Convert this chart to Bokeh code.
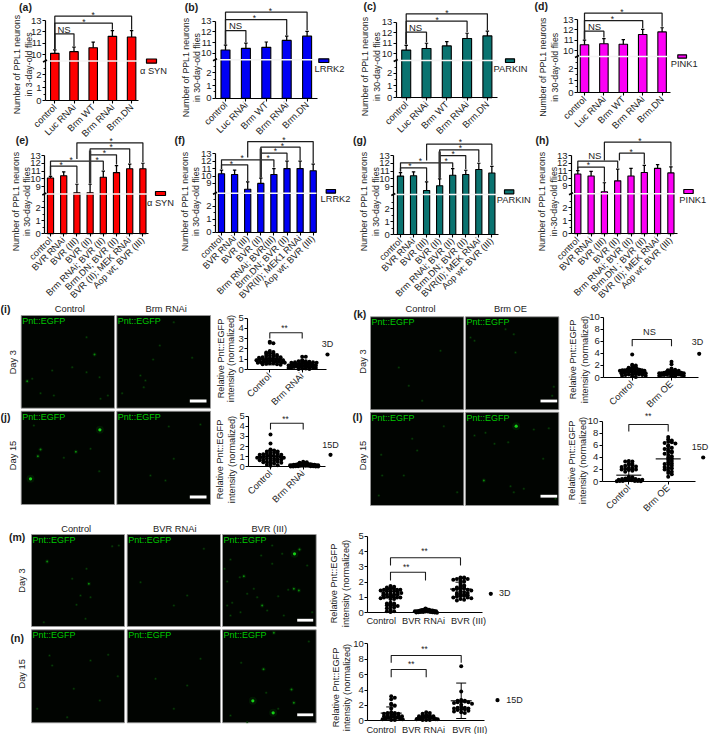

from math import pi
from bokeh.plotting import figure
from bokeh.models import Range1d, LinearAxis, FixedTicker
from bokeh.core.properties import value
from bokeh.embed import file_html
from bokeh.resources import INLINE

W, H_PX = 709, 734
FONT = value("Liberation Sans")
INK = "#1c1c1c"

# ---------- bar data ----------
cats_top = ["control", "Luc RNAi", "Brm WT", "Brm RNAi", "Brm.DN"]
a_vals = [10.1, 10.25, 10.6, 11.6, 11.55]
a_tops = [10.4, 10.65, 11.1, 12.1, 12.1]
b_vals = [10.3, 10.45, 10.55, 11.2, 11.6]
b_tops = [10.75, 10.95, 11.05, 11.6, 12.05]
c_vals = [10.35, 10.5, 10.75, 11.45, 11.7]
c_tops = [10.8, 11.0, 11.15, 11.95, 12.15]
d_vals = [10.55, 10.65, 10.6, 11.55, 11.8]
d_tops = [11.0, 11.15, 11.05, 12.05, 12.2]

e_cats = ["control", "BVR RNAi", "BVR (III)", "BVR (II)", "Brm RNAi; BVR (II)", "Brm.DN; BVR (II)", "BVR (II); MEK RNAi", "Aop wt; BVR (III)"]
f_cats = ["control", "BVR RNAi", "BVR (III)", "BVR (II)", "Brm RNAi; BVR(III)", "Brm.DN; BVR (II)", "BVR(II); MEK1 RNAi", "Aop wt; BVR (III)"]
g_cats = ["control", "BVR RNAi", "BVR (III)", "BVR (II)", "Brm RNAi; BVR (II)", "Brm.DN; BVR (II)", "BVR(II); MEK RNAi", "Aop wt; BVR (III)"]
h_cats = ["control", "BVR RNAi", "BVR (III)", "BVR (II)", "Brm RNAi; BVR (II)", "Brm.DN ; BVR (II)", "BVR (II); MEK RNAi", "Aop wt; BVR (III)"]
e_vals = [10.1, 10.4, 8.2, 8.2, 10.2, 10.8, 11.3, 11.3]
e_tops = [10.3, 10.9, 9.3, 9.3, 11.0, 11.7, 11.9, 12.0]
f_vals = [10.3, 10.2, 8.2, 9.0, 10.2, 11.0, 11.0, 10.7]
f_tops = [10.8, 10.8, 9.2, 9.7, 11.0, 12.0, 12.0, 11.6]
g_vals = [10.35, 10.4, 8.5, 9.1, 10.45, 10.55, 11.2, 10.75]
g_tops = [10.8, 10.9, 9.6, 10.0, 11.3, 11.1, 12.0, 11.6]
h_vals = [10.55, 10.3, 8.2, 9.65, 10.3, 10.75, 11.3, 10.7]
h_tops = [11.0, 10.9, 9.4, 11.2, 11.3, 11.7, 11.8, 11.5]

# ---------- scatter data ----------
i_control = [2.7,2.6,2.55,1.8,1.7,1.65,1.6,1.55,1.5,1.4,1.35,1.3,1.3,1.25,1.2,1.2,1.15,1.1,1.1,1.05,1.0,1.0,1.0,0.95,0.9,0.9,0.85,0.85,0.8,0.8,0.75,0.75,0.7,0.7,0.65,0.65,0.6,0.6,0.55,0.5,0.5,0.45]
i_rnai = [1.25,1.25,0.9,0.85,0.8,0.8,0.75,0.7,0.7,0.65,0.65,0.6,0.6,0.55,0.55,0.5,0.5,0.5,0.45,0.45,0.4,0.4,0.35,0.35,0.3,0.3,0.3,0.25,0.25,0.2,0.2,0.15,0.15,0.1,0.1,0.05,0.05]
j_control = [3.2,2.3,1.7,1.65,1.6,1.5,1.5,1.4,1.4,1.3,1.3,1.25,1.2,1.2,1.15,1.1,1.1,1.05,1.0,1.0,0.95,0.9,0.9,0.85,0.8,0.8,0.75,0.7,0.7,0.65,0.6,0.6,0.5,0.5,0.45,0.4,0.35,0.3,0.2,0.15,0.1]
j_rnai = [0.5,0.45,0.4,0.35,0.35,0.3,0.3,0.3,0.25,0.25,0.25,0.2,0.2,0.2,0.2,0.15,0.15,0.15,0.15,0.1,0.1,0.1,0.1,0.05,0.05,0.05,0.05,0.02,0.02,0.02,0.02]
k_control = [3.8,2.1,2.0,1.9,1.7,1.6,1.5,1.5,1.4,1.4,1.3,1.3,1.2,1.2,1.2,1.1,1.1,1.0,1.0,1.0,0.9,0.9,0.8,0.8,0.8,0.7,0.7,0.6,0.6,0.5,0.5,0.4,0.4,0.3,0.3,0.2,0.1]
k_oe = [2.6,2.2,1.5,1.3,1.2,1.1,1.0,1.0,0.9,0.9,0.9,0.8,0.8,0.8,0.7,0.7,0.7,0.6,0.6,0.6,0.5,0.5,0.5,0.4,0.4,0.4,0.3,0.3,0.2,0.2]
l_control = [3.4,3.3,3.3,3.0,2.9,2.8,2.7,2.6,2.5,2.4,2.3,2.2,2.1,2.0,2.0,1.9,1.8,1.6,0.8,0.7,0.6,0.5,0.5,0.4,0.4,0.3,0.3,0.3,0.2,0.2,0.2,0.1,0.1,0.1,0.1,0.05,0.05]
l_oe = [7.4,7.0,6.8,6.6,6.5,6.4,6.3,6.0,5.8,5.6,5.4,5.2,5.0,4.9,4.8,4.6,4.4,4.2,4.0,3.8,3.6,3.4,3.2,3.0,2.9,2.8,2.6,2.4,2.3,2.2,2.0,1.8,1.6,1.4,1.2,0.8]
m_control = [1.75,1.7,1.65,1.6,1.6,1.55,1.5,1.5,1.5,1.45,1.4,1.4,1.4,1.35,1.3,1.3,1.25,1.2,1.2,1.2,1.15,1.1,1.1,1.05,1.0,1.0,1.0,0.95,0.9,0.9,0.65,0.6,0.6,0.55,0.5,0.5,0.45,0.4,0.35,0.3,0.2,0.1,0.1,0.05]
m_rnai = [0.28,0.25,0.22,0.2,0.2,0.18,0.15,0.15,0.15,0.12,0.12,0.1,0.1,0.1,0.08,0.08,0.05,0.05,0.05,0.03,0.03,0.02,0.02,0.01]
m_bvr = [2.3,2.3,2.25,2.25,2.2,2.2,2.15,2.1,2.05,1.9,1.8,1.75,1.7,1.65,1.6,1.6,1.55,1.5,1.5,1.45,1.4,1.35,1.3,1.3,1.25,1.2,1.2,1.15,1.1,1.1,1.05,1.0,1.0,0.95,0.9,0.85,0.8]
n_control = [3.2,3.0,2.8,2.2,2.1,2.0,1.6,1.1,1.0,1.0,0.9,0.9,0.8,0.8,0.7,0.7,0.6,0.6,0.5,0.5,0.4,0.4,0.3,0.3,0.2,0.2,0.1,0.1]
n_rnai = [1.1,1.0,0.9,0.8,0.7,0.7,0.6,0.6,0.5,0.5,0.5,0.4,0.4,0.4,0.3,0.3,0.3,0.2,0.2,0.2,0.1,0.1,0.1]
n_bvr = [7.1,3.8,2.7,2.6,2.6,2.5,2.5,2.4,2.4,2.3,2.2,2.1,1.8,1.7,1.7,1.6,1.6,1.5,1.5,1.4,1.3,1.2,1.1,1.0]
i_stats = [(1.0, 0.55), (0.45, 0.3)]
j_stats = [(1.0, 0.6), (0.15, 0.12)]
k_stats = [(1.05, 0.6), (0.75, 0.55)]
l_stats = [(1.05, 0.95), (3.75, 1.7)]
m_stats = [(1.0, 0.5), (0.1, 0.08), (1.55, 0.45)]
n_stats = [(1.0, 0.8), (0.4, 0.3), (2.6, 2.3)]

# ---------- micrograph spots: (zoom px x, zoom px y, brightness 1..3) ----------
sp_i1 = [(80,242,2),(282,162,2),(120,278,1),(297,230,1),(322,285,1),(160,285,1),(258,110,1),(215,200,1),(258,215,1),(95,235,1),(300,295,1),(155,210,1)]
sp_i2 = [(365,278,1),(478,135,1),(458,177,1),(435,240,1),(430,260,1),(420,225,1),(575,172,1),(520,65,1)]
sp_j1 = [(298,313,3),(120,372,2),(226,379,2),(112,392,2),(90,460,3),(296,437,1),(270,370,1),(190,397,1),(100,300,1)]
sp_j2 = [(520,400,1),(505,303,1),(600,297,1),(495,465,1),(450,450,1)]
sp_k1 = [(145,200,1),(215,300,1),(175,255,1),(270,150,1)]
sp_k2 = [(372,120,1),(495,155,1),(610,258,1),(465,85,1),(605,285,1),(360,110,1),(490,100,1)]
sp_l1 = [(280,302,1),(92,388,1),(95,450,1),(320,500,1),(85,510,1),(200,375,1),(185,340,1),(160,450,1)]
sp_l2 = [(497,302,3),(405,322,1),(432,355,1),(400,465,2),(480,482,1),(578,400,1),(595,308,1),(473,350,1),(550,312,1),(490,500,1),(520,490,1),(615,520,1),(372,330,1)]
sp_m1 = [(140,108,2),(258,130,1),(265,175,2),(228,238,1),(270,215,1),(355,60,1),(335,62,1),(240,210,1),(215,160,1),(255,280,1),(130,290,1)]
sp_m2 = [(420,170,1),(610,70,1),(520,240,1),(560,210,1)]
sp_m3 = [(882,85,3),(897,72,2),(782,90,1),(690,102,1),(815,60,1),(672,130,1),(730,152,2),(718,155,1),(680,168,1),(760,190,1),(740,205,1),(880,190,2),(895,195,2),(863,193,1),(833,212,1),(785,240,2),(680,240,1),(695,232,1),(935,260,1),(800,255,1),(690,270,1),(815,115,1),(845,85,1),(920,120,1),(770,215,1),(720,260,1),(850,270,1)]
sp_n1 = [(323,388,1),(147,390,1),(352,452,1),(298,525,1),(270,405,1),(155,420,1),(220,490,1),(200,575,1),(110,550,1)]
sp_n2 = [(465,460,1),(600,400,1),(560,480,1),(520,550,1)]
sp_n3 = [(820,322,2),(789,431,2),(757,526,3),(818,562,3),(873,492,2),(880,532,2),(797,502,1),(722,412,1),(833,550,1),(740,590,1),(690,570,1),(925,348,1)]

p = figure(width=W, height=H_PX, x_range=Range1d(0, W), y_range=Range1d(H_PX, 0),
           x_axis_type=None, y_axis_type=None, toolbar_location=None, output_backend="svg",
           min_border=0, outline_line_color=None, background_fill_color="white",
           border_fill_color="white",
           styles={"position": "absolute", "left": "0px", "top": "0px"})
p.grid.visible = False


def txt(x, y, s, size=9.0, angle=0.0, color=INK, style="normal", align="center"):
    p.text(x=[x], y=[y], text=[s], angle=angle, text_font=FONT, text_font_size=f"{size}px",
           text_align=align, text_baseline="middle", text_color=color, text_font_style=style)


def line(xs, ys, color=INK, width=1.2):
    p.line(x=xs, y=ys, line_color=color, line_width=width, line_cap="butt")


# ---------- bar panels ----------
def bar_panel(name, cats, vals, tops, color, ax_x, ax_end, c0, spacing, barw, y0, y2, y10, y13, ybreak,
              ticks_hi, brackets, stars, label_xy, label2, legend, tick_size, ns=None, thick=None):
    s = (y0 - y2) / 2.0
    hi = (y10 - y13) / 3.0

    def H(v):
        return v if v <= 3.2 else (y0 - y10) / s + (v - 10) * hi / s

    def py(v):
        return y0 - H(v) * s

    def px(i):
        return c0 + i * spacing

    xn, yn = name + "_x", name + "_y"
    p.extra_x_ranges[xn] = Range1d((0 - c0) / spacing, (W - c0) / spacing)
    p.extra_y_ranges[yn] = Range1d((y0 - H_PX) / s, y0 / s)
    n = len(cats)
    idx = list(range(n))
    p.vbar(x=idx, top=[H(v) for v in vals], bottom=0, width=barw / spacing, fill_color=color,
           line_color="black", line_width=1.1, x_range_name=xn, y_range_name=yn)
    p.segment(x0=idx, x1=idx, y0=[H(v) for v in vals], y1=[H(v) for v in tops], line_color="black",
              line_width=1.3, x_range_name=xn, y_range_name=yn)
    cap = 1.7 / spacing
    p.segment(x0=[i - cap for i in idx], x1=[i + cap for i in idx], y0=[H(v) for v in tops],
              y1=[H(v) for v in tops], line_color="black", line_width=1.2, x_range_name=xn, y_range_name=yn)
    # white break band
    line([ax_x, ax_end], [ybreak, ybreak], color="#f4f4f4", width=1.5)
    line([ax_x - 2.5, ax_x + 1.5], [ybreak + 1, ybreak - 1], color="black", width=1.8)

    yt = [0, 1, 2] + ticks_hi
    yax = LinearAxis(x_range_name=xn, y_range_name=yn, fixed_location=(ax_x - c0) / spacing,
                     ticker=FixedTicker(ticks=[H(v) for v in yt], minor_ticks=[0.5, 1.5, 2.5]),
                     major_label_overrides={H(v): str(v) for v in yt},
                     bounds=(0, H(13)), major_tick_in=0, major_tick_out=3, minor_tick_in=0, minor_tick_out=2,
                     major_label_standoff=1, major_label_text_font="Liberation Sans",
                     major_label_text_font_size="9.5px", major_label_text_color=INK,
                     axis_line_width=1.2, major_tick_line_width=1.1, minor_tick_line_width=0.9)
    p.add_layout(yax, "left")
    xax = LinearAxis(x_range_name=xn, y_range_name=yn, fixed_location=0,
                     ticker=FixedTicker(ticks=idx), major_label_overrides={i: c for i, c in enumerate(cats)},
                     bounds=((ax_x - c0) / spacing, (ax_end - c0) / spacing), major_label_orientation=pi / 4,
                     major_tick_in=0, major_tick_out=3, minor_tick_line_color=None, major_label_standoff=2,
                     major_label_text_font="Liberation Sans", major_label_text_font_size=f"{tick_size}px",
                     major_label_text_color=INK, axis_line_width=1.2, major_tick_line_width=1.1)
    p.add_layout(xax, "below")

    for i, j, ly, left_end, right_end in brackets:
        le = py(tops[i]) - 1 if left_end is None else left_end
        re = py(tops[j]) - 1 if right_end is None else right_end
        line([px(i), px(i), px(j), px(j)], [le, ly, ly, re], width=1.25)
    if thick is not None:
        line([px(3), px(3)], [thick, py(tops[3]) - 1], color="#333333", width=2.4)
    for sx, sy in stars:
        txt(sx, sy, "*", 8.5)
    if ns:
        txt(ns[0], ns[1], "NS", 9.5)
    lx1, lx2, lyc = label_xy
    txt(lx1, lyc, "Number of PPL1 neurons", 8.8, pi / 2)
    txt(lx2, lyc, label2, 8.8, pi / 2)
    sx0, sx1, sy0, sy1, tx, ty, tlabel = legend
    p.quad(left=[sx0], right=[sx1], top=[sy0], bottom=[sy1], fill_color=color, line_color="black", line_width=1.2)
    txt(tx, ty, tlabel, 9.3)


R, B, T, M = "#fe0000", "#0000f5", "#0a7370", "#fc00f5"
ROW1 = [10, 11, 12, 13]
ROW2 = [9, 10, 11, 12, 13]
bar_panel("a", cats_top, a_vals, a_tops, R, 45, 138, 54.3, 19.2, 8.5, 100, 74, 54, 20, 60.5, ROW1,
          [(0, 4, 15.7, None, None), (0, 3, 22.7, None, None), (0, 1, 33.3, None, None)],
          [(92.7, 14.5), (83.5, 21)], (16.7, 28, 64), "in 3-day-old flies",
          (146, 156, 58.5, 62.7, 153, 70.7, "α SYN"), 9.4, ns=(63.5, 28.5))
bar_panel("b", cats_top, b_vals, b_tops, B, 215, 317, 225, 20.4, 9, 97.7, 72.3, 52.7, 20.7, 59.3, ROW1,
          [(0, 4, 11.7, None, None), (0, 3, 19, None, None), (0, 1, 30, None, None)],
          [(270, 10.5), (254, 17.5)], (185, 196, 67), "in 30-day-old flies",
          (318.3, 328.3, 58.3, 62, 329, 68.3, "LRRK2"), 9.4, ns=(235, 25))
bar_panel("c", cats_top, c_vals, c_tops, T, 395.7, 497, 405.7, 20.3, 9, 97.3, 72.7, 53.3, 21.7, 60, ROW1,
          [(0, 4, 13.3, None, None), (0, 3, 20.7, None, None), (0, 1, 31.7, None, None)],
          [(446.3, 12), (436.7, 19)], (364, 376, 66), "in 30-day-old flies",
          (505, 514, 58.3, 62, 510, 68.7, "PARKIN"), 9.4, ns=(415, 27))
bar_panel("d", cats_top, d_vals, d_tops, M, 577, 670, 584, 19.4, 8.5, 92, 68.3, 50, 19, 56, ROW1,
          [(0, 4, 12.7, None, None), (0, 3, 20, None, None), (0, 1, 30.7, None, None)],
          [(621.5, 11.5), (612, 18.5)], (542.7, 554.3, 66.7), "in 30-day-old flies",
          (677.3, 686, 54.3, 57.7, 683.7, 63.3, "PINK1"), 9.4, ns=(594, 25.5))

bar_panel("e", e_cats, e_vals, e_tops, R, 44.3, 148, 50, 13.2, 6.2, 233.3, 207.3, 178.3, 155, 193.5, ROW2,
          [(2, 7, 142.3, 158.5, None), (3, 6, 148.3, None, None), (3, 5, 154.3, 160.7, None),
           (0, 3, 160.7, None, None), (3, 4, 160.7, None, None), (0, 2, 165.7, None, None)],
          [(110.7, 140), (110.7, 146), (104, 152.3), (70.7, 159), (96.7, 159), (60.7, 164)],
          (15, 26, 201), "in 30-day-old flies", (155, 165, 191, 195, 160, 202.7, "α SYN"), 9.2, thick=150)
bar_panel("f", f_cats, f_vals, f_tops, B, 215, 316, 221, 13.1, 6.2, 231.7, 205.7, 175.5, 153.3, 192.7, ROW2,
          [(2, 7, 141, 157, None), (3, 6, 146.7, None, None), (3, 5, 152.7, 159.3, None),
           (0, 3, 159.3, None, None), (3, 4, 159.3, None, None), (0, 2, 164.3, None, None)],
          [(283.3, 139), (282, 145), (275, 150.7), (241.7, 157.7), (267.7, 157.7), (231, 163.3)],
          (184, 195.7, 201), "in 30-day-old flies", (325.7, 335, 189, 192.7, 335, 198.7, "LRRK2"), 9.2, thick=148)
bar_panel("g", g_cats, g_vals, g_tops, T, 393.3, 498, 400, 13.05, 6.2, 234, 208.3, 178.3, 155, 194, ROW2,
          [(2, 7, 143.7, 160, None), (3, 6, 149.3, None, None), (3, 5, 155, 162.3, None),
           (0, 3, 162.3, None, None), (3, 4, 162.3, None, None), (0, 2, 167.3, None, None)],
          [(460, 141.7), (460, 147.3), (452.7, 153.3), (420, 160), (445.7, 160), (409.3, 165.3)],
          (363.3, 375.7, 201), "in 30-day-old flies", (504, 513.3, 189.3, 193.3, 513.3, 199.3, "PARKIN"), 9.2, thick=151)
bar_panel("h", h_cats, h_vals, h_tops, M, 571, 676.7, 577.3, 13.3, 6.2, 233.3, 207.3, 177.7, 155, 193.3, ROW2,
          [(2, 7, 141.7, 160, None), (3.13, 5, 152.7, 160, None), (0, 3, 160.7, None, None), (0, 2, 166.7, None, None)],
          [(639.3, 140), (630.7, 151.7), (588, 164.3)],
          (541.7, 553.3, 201), "in-30-day-old flies", (683.3, 692.7, 189, 193, 692.3, 199.3, "PINK1"), 9.2,
          ns=(594.3, 155))


# ---------- micrographs ----------
def micrograph(x0, x1, y0, y1, zx0, zy0, spots):
    p.quad(left=[x0], right=[x1], top=[y0], bottom=[y1], fill_color="#010401", line_color="#9a9a9a", line_width=0.8)
    xs = [x0 + (sp[0] - zx0) / 3.0 for sp in spots]
    ys = [y0 + (sp[1] - zy0) / 3.0 for sp in spots]
    br = [sp[2] for sp in spots]
    halo = [{1: 3.0, 2: 4.5, 3: 8}[b] for b in br]
    core = [{1: 1.5, 2: 2.0, 3: 3.2}[b] for b in br]
    ca = [{1: "#0a420a", 2: "#0a8a0a", 3: "#16d016"}[b] for b in br]
    p.scatter(x=xs, y=ys, size=halo, fill_color="#0b6e0b", fill_alpha=0.18, line_color=None)
    p.scatter(x=xs, y=ys, size=core, fill_color=ca, line_color=None)
    txt(x0 + 1, y0 + 5.5, "Pnt::EGFP", 9.0, color="#00c800", align="left")


def scalebar(x0, x1, y):
    line([x0, x1], [y, y], color="white", width=2.8)


micrograph(20.7, 114, 315, 407.7, 62, 45, sp_i1)
micrograph(116.3, 210, 315, 407.7, 349, 45, sp_i2)
micrograph(20.7, 114, 410.7, 504, 62, 257, sp_j1)
micrograph(116.3, 210, 410.7, 504, 349, 257, sp_j2)
micrograph(370, 463.3, 316.3, 409.3, 60, 48, sp_k1)
micrograph(465, 558.3, 316.3, 409.3, 345, 48, sp_k2)
micrograph(370, 463.3, 411.7, 505, 60, 260, sp_l1)
micrograph(465, 558.3, 411.7, 505, 345, 260, sp_l2)
micrograph(31, 124, 534, 626, 93, 27, sp_m1)
micrograph(126.7, 220, 534, 626, 380, 27, sp_m2)
micrograph(222, 315.7, 534, 626, 666, 27, sp_m3)
micrograph(31, 124, 629.3, 722.3, 93, 313, sp_n1)
micrograph(126.7, 220, 629.3, 722.3, 380, 313, sp_n2)
micrograph(222, 315.7, 629.3, 722.3, 666, 313, sp_n3)
scalebar(189.3, 206, 400.5)
scalebar(189.3, 206, 496.5)
scalebar(540, 556.7, 400.5)
scalebar(540, 556.7, 495.7)
scalebar(296.7, 312.7, 619.7)
scalebar(296.7, 312.7, 714.3)
for x, y, s in [(69.3, 308.3, "Control"), (165.7, 308.3, "Brm RNAi"), (420, 308.3, "Control"), (510, 308.3, "Brm OE"),
                (75.7, 528.3, "Control"), (174.3, 528.3, "BVR RNAi"), (268.7, 528.3, "BVR (III)")]:
    txt(x, y, s, 9.3)
for x, y, s in [(12, 361.7, "Day 3"), (12, 455, "Day 15"), (362, 361, "Day 3"), (362, 455, "Day 15"),
                (21, 580, "Day 3"), (21, 673.3, "Day 15")]:
    txt(x, y, s, 9.3, pi / 2)
for x, y, s in [(25, 6, "(a)"), (191, 6, "(b)"), (369.3, 5, "(c)"), (540.7, 5, "(d)"), (21.7, 139.3, "(e)"),
                (179.3, 139.3, "(f)"), (359.3, 139.3, "(g)"), (541.7, 139.3, "(h)"), (5, 308, "(i)"),
                (5, 416.7, "(j)"), (359.3, 313.3, "(k)"), (357, 416.7, "(l)"), (16.7, 536, "(m)"), (16.7, 637.7, "(n)")]:
    txt(x, y, s, 10.5, style="bold")


# ---------- scatter panels ----------
def swarm(vals, binw, step, max_half):
    counts, rows = {}, {}
    for v in vals:
        k = round(v / binw)
        counts[k] = counts.get(k, 0) + 1
    off = []
    for v in vals:
        k = round(v / binw)
        m = rows.get(k, 0)
        rows[k] = m + 1
        st = min(step, 2 * max_half / max(counts[k], 1))
        off.append(((m + 1) // 2) * st * (1 if m % 2 else -1))
    return off


def scatter_panel(name, groups, stats, ax_x, ax_end, c0, spacing, y0, ytop, vmax, yticks, cats, rotated,
                  brackets, marks, lab_x, lab_y, legend, max_half, tick_font=9.3):
    s = (y0 - ytop) / vmax
    xn, yn = name + "_x", name + "_y"
    p.extra_x_ranges[xn] = Range1d((0 - c0) / spacing, (W - c0) / spacing)
    p.extra_y_ranges[yn] = Range1d((y0 - H_PX) / s, y0 / s)
    for i, vals in enumerate(groups):
        off = swarm(vals, 2.6 / s, 3.6 / spacing, max_half / spacing)
        p.scatter(x=[i + o for o in off], y=vals, size=4.0, fill_color="black", line_color=None,
                  x_range_name=xn, y_range_name=yn)
    for i, (mean, sd) in enumerate(stats):
        lo = max(mean - sd, 0)
        hw, cw = (max_half - 1) / spacing, 5.0 / spacing
        p.segment(x0=[i - hw], x1=[i + hw], y0=[mean], y1=[mean], line_color="black", line_width=1.1,
                  x_range_name=xn, y_range_name=yn)
        p.segment(x0=[i], x1=[i], y0=[lo], y1=[mean + sd], line_color="black", line_width=1.0,
                  x_range_name=xn, y_range_name=yn)
        p.segment(x0=[i - cw, i - cw], x1=[i + cw, i + cw], y0=[lo, mean + sd], y1=[lo, mean + sd],
                  line_color="black", line_width=1.0, x_range_name=xn, y_range_name=yn)
    yax = LinearAxis(x_range_name=xn, y_range_name=yn, fixed_location=(ax_x - c0) / spacing,
                     ticker=FixedTicker(ticks=yticks), major_label_overrides={t: str(t) for t in yticks},
                     bounds=(0, vmax), major_tick_in=0, major_tick_out=3, minor_tick_line_color=None,
                     major_label_standoff=1, major_label_text_font="Liberation Sans",
                     major_label_text_font_size="9.5px", major_label_text_color=INK, axis_line_width=1.1,
                     major_tick_line_width=1.0)
    p.add_layout(yax, "left")
    xticks = list(range(len(cats))) if rotated else []
    xax = LinearAxis(x_range_name=xn, y_range_name=yn, fixed_location=0, ticker=FixedTicker(ticks=xticks),
                     major_label_overrides={i: c for i, c in enumerate(cats)} if rotated else {},
                     bounds=((ax_x - c0) / spacing, (ax_end - c0) / spacing), major_label_orientation=pi / 4,
                     major_tick_in=0, major_tick_out=3, minor_tick_line_color=None, major_label_standoff=2,
                     major_label_text_font="Liberation Sans", major_label_text_font_size=f"{tick_font}px",
                     major_label_text_color=INK, axis_line_width=1.1, major_tick_line_width=1.0)
    p.add_layout(xax, "below")
    for i, j, ly, drop in brackets:
        xa, xb = c0 + i * spacing, c0 + j * spacing
        line([xa, xa, xb, xb], [drop, ly, ly, drop], width=1.1)
    for mx, my, t in marks:
        txt(mx, my, t, 9.2 if t == "NS" else 8.2)
    txt(lab_x[0], lab_y, "Relative Pnt::EGFP", 9.2, pi / 2)
    txt(lab_x[1], lab_y, "intensity (normalized)", 9.2, pi / 2)
    p.scatter(x=[legend[2]], y=[legend[3]], size=4.2, fill_color="black", line_color=None)
    txt(legend[0], legend[1], legend[4], 9.0)


BR = ["Control", "Brm RNAi"]
OE = ["Control", "Brm OE"]
BV = ["Control", "BVR RNAi", "BVR (III)"]
scatter_panel("i", [i_control, i_rnai], i_stats, 247.3, 326, 269.3, 32.4, 369, 317.5, 5, [0, 1, 2, 3, 4, 5], BR, True,
              [(0, 1, 332.3, 338)], [(284, 328, "**")], (220, 230), 358, (327, 343, 327, 354, "3D"), 15)
scatter_panel("j", [j_control, j_rnai], j_stats, 248.3, 325, 270, 32.7, 466.3, 415.7, 5, [0, 1, 2, 3, 4, 5], BR, True,
              [(0, 1, 422.7, 429)], [(285, 419, "**")], (219, 231), 459, (330, 444, 330, 454.3, "15D"), 15)
scatter_panel("k", [k_control, k_oe], k_stats, 603.3, 698, 631.7, 39.3, 377, 316.7, 10, [0, 2, 4, 6, 8, 10], OE, True,
              [(0, 1, 339, 345.7)], [(649, 331.7, "NS")], (572.7, 584), 359, (697, 341.7, 698.7, 353.3, "3D"), 13.5)
scatter_panel("l", [l_control, l_oe], l_stats, 601.7, 695, 628.3, 39.4, 481, 420.7, 10, [0, 2, 4, 6, 8, 10], OE, True,
              [(0, 1, 424, 431)], [(647.7, 415.7, "**")], (571, 582.7), 460, (699.5, 446.7, 702.7, 457, "15D"), 13.5)
scatter_panel("m", [m_control, m_rnai, m_bvr], m_stats, 367.3, 481.7, 390, 35, 612.3, 535.7, 5, [0, 1, 2, 3, 4, 5], BV, False,
              [(0, 2, 557.3, 565), (0, 1, 571.7, 580)], [(424, 551, "**"), (405.7, 566.7, "**")],
              (333, 345), 583, (504.3, 592.7, 490.3, 593.3, "3D"), 11.5)
scatter_panel("n", [n_control, n_rnai, n_bvr], n_stats, 367.3, 484.3, 390.7, 35, 720.3, 643.3, 10, [0, 2, 4, 6, 8, 10], BV, False,
              [(0, 2, 655, 662.3), (0, 1, 669, 676.7)], [(424, 649, "**"), (410.7, 663.7, "**")],
              (335, 346), 687, (514, 699, 497, 699.7, "15D"), 11.5)
for xc, yc, labels in [((380.7, 423, 468), 620.7, BV), ((380.7, 423, 469.3), 729, BV)]:
    for xl, lab in zip(xc, labels):
        txt(xl, yc, lab, 9.2)

open("out.html", "w").write(file_html(p, INLINE))
